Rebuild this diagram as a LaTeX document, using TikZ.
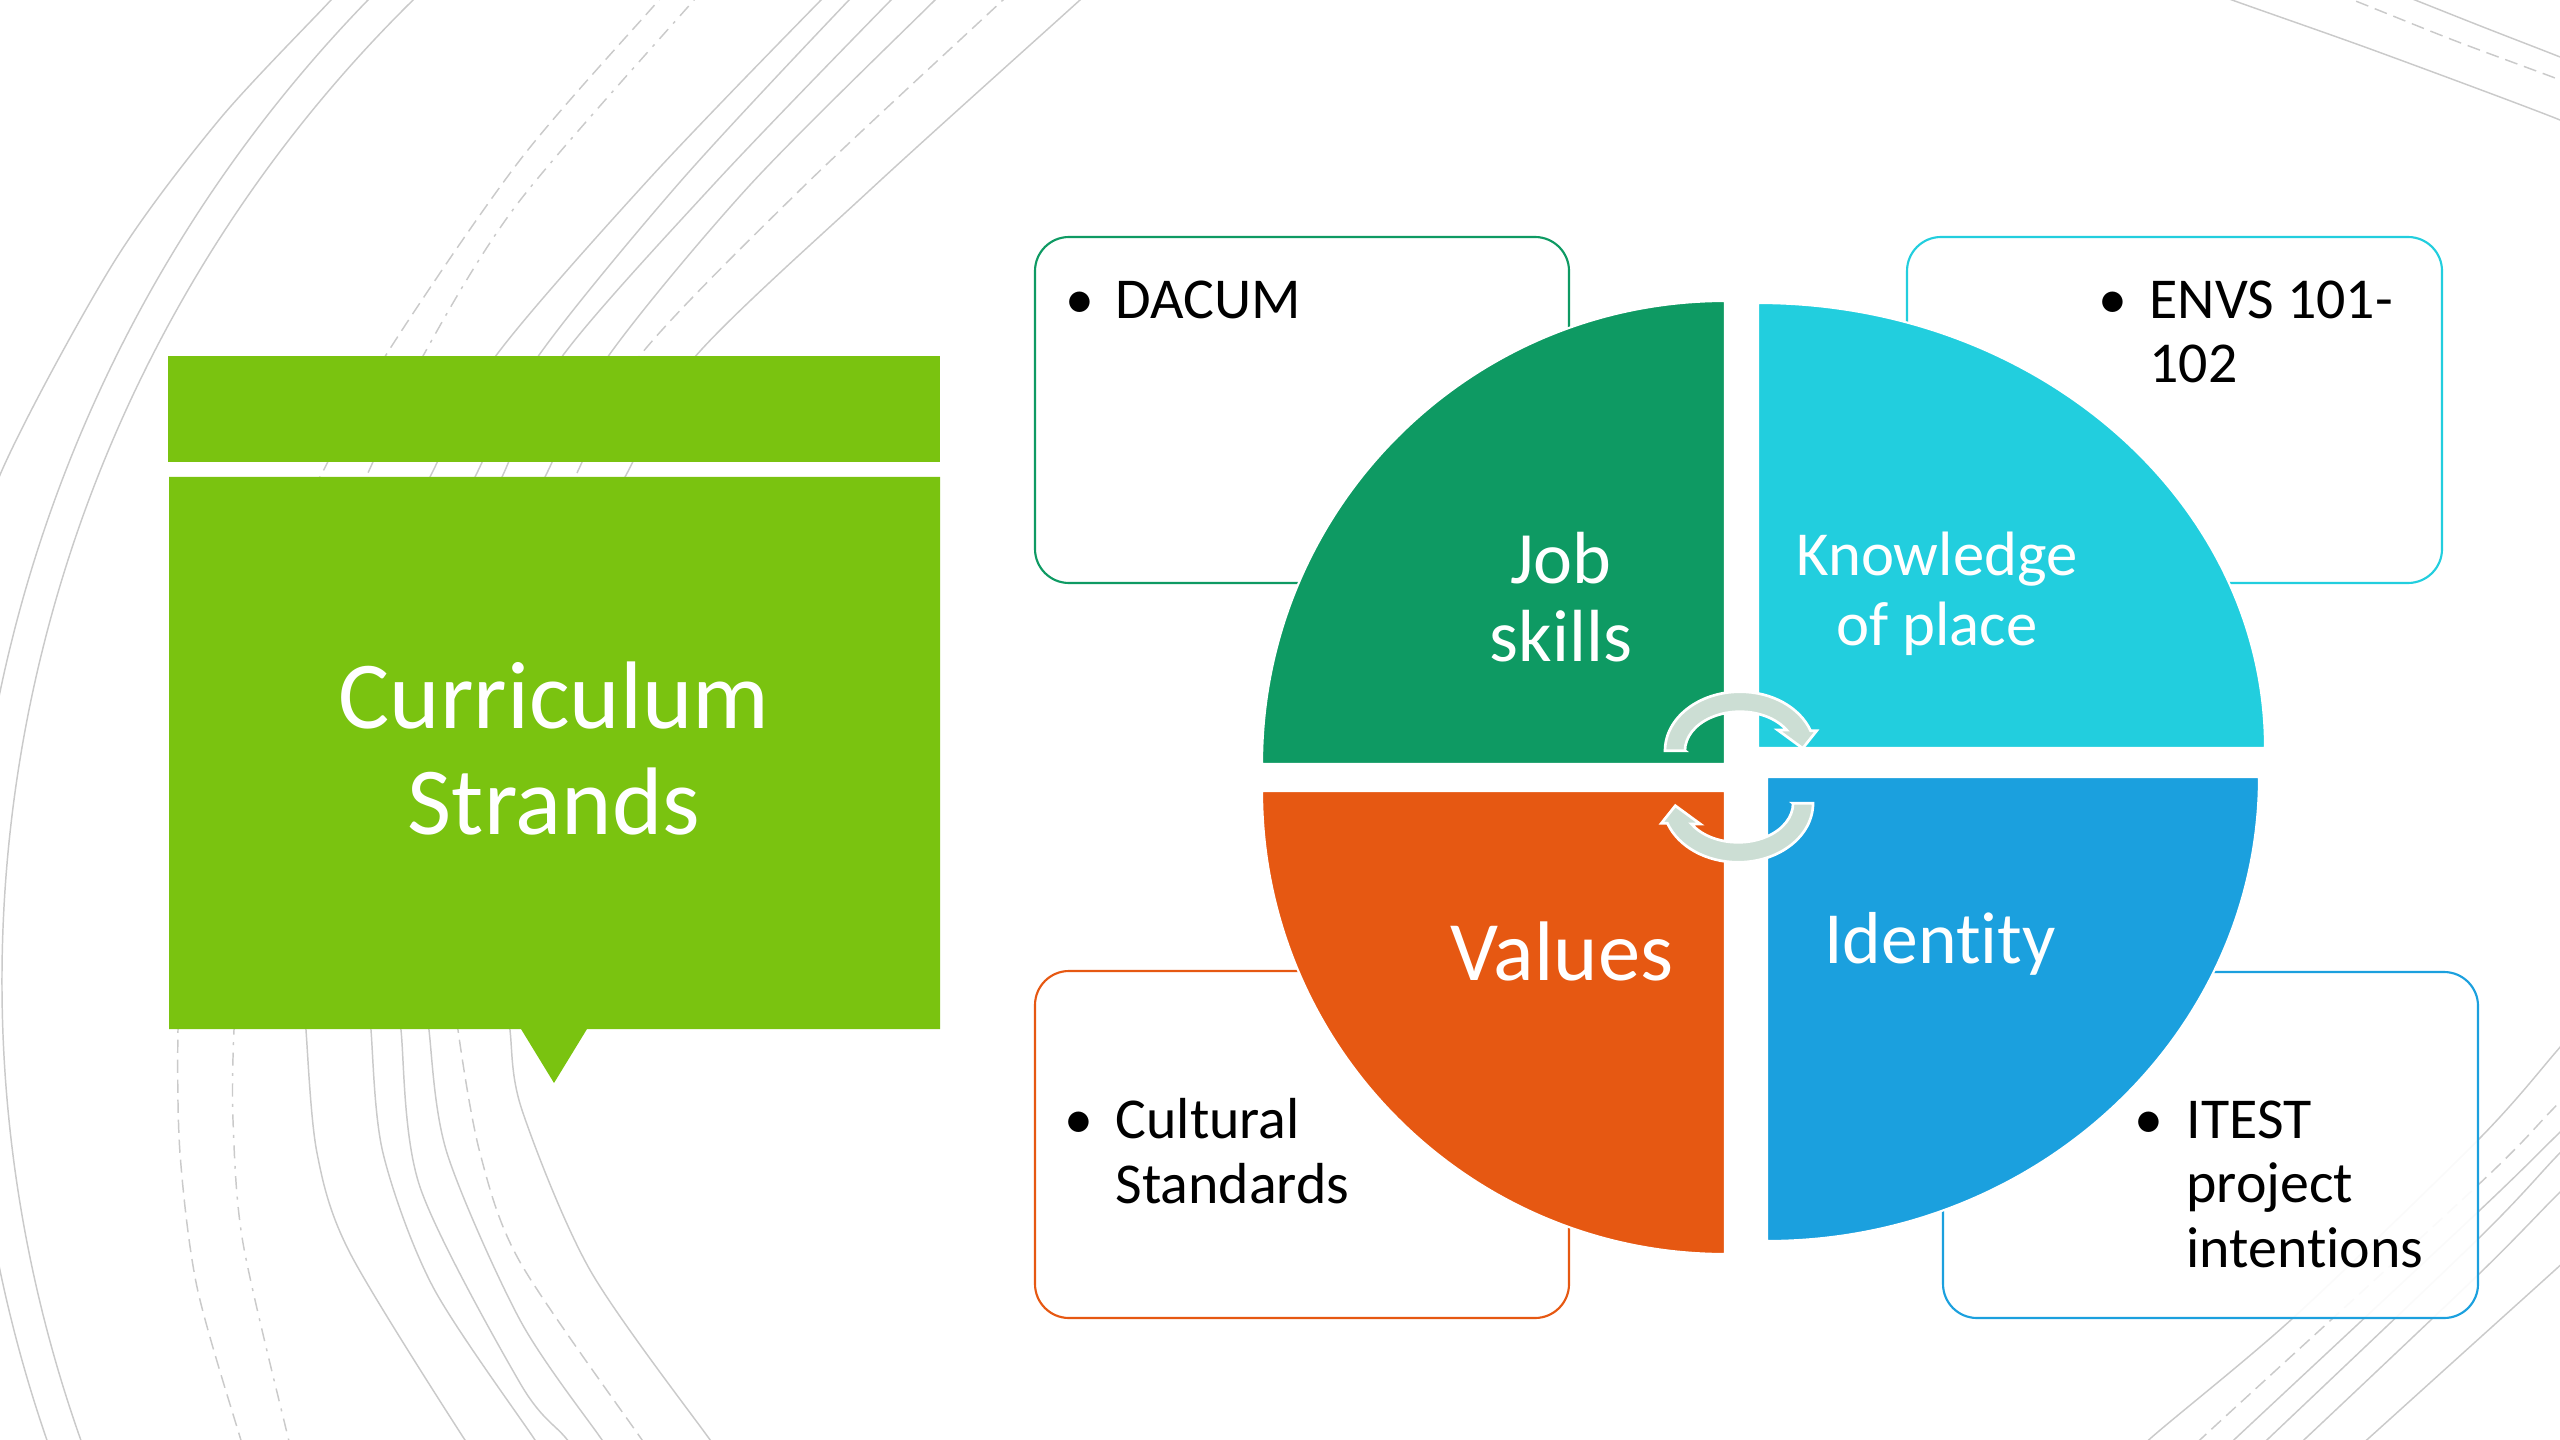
\documentclass[tikz,border=0pt]{standalone}
\usepackage{fontspec}
\setmainfont{Carlito}[Ligatures=NoCommon]
\definecolor{bannergreen}{HTML}{7AC310}
\definecolor{jobgreen}{HTML}{0E9A63}
\definecolor{placecyan}{HTML}{22CEDE}
\definecolor{identblue}{HTML}{1BA0DE}
\definecolor{valueorange}{HTML}{E65812}
\definecolor{cyclefill}{HTML}{CCDED4}
\definecolor{arcgrey}{HTML}{CACACA}
\begin{document}
\begin{tikzpicture}[x=0.375pt,y=0.375pt,
  arcline/.style={draw=arcgrey,line width=0.55pt},
  dashedarc/.style={arcline,dash pattern=on 4.9pt off 2.6pt},
  dashdotarc/.style={arcline,dash pattern=on 4.9pt off 2.8pt on 1.1pt off 2.8pt},
  notebox/.style={fill=white,fill opacity=0.92,line width=0.8pt,rounded corners=12.75pt},
  quarter/.style={draw=white,line width=0.8pt},
  cyclearrow/.style={fill=cyclefill,draw=white,line width=1pt},
  pielabel/.style={text=white,inner sep=0pt,anchor=base},
  notetext/.style={text=black,inner sep=0pt,anchor=base west,font=\fontsize{21.7}{26}\selectfont},
  notebullet/.style={text=black,inner sep=0pt,anchor=base,font=\fontsize{21.7}{26}\selectfont},
  cycle arrow/.pic={
    \path[cyclearrow] (-55,0) -- (-75,0)
      arc[start angle=180,end angle=19.8,x radius=75,y radius=59]
      -- (76.7,20) -- (62.7,2.4) -- (37.7,20.7) -- (46.6,20.7)
      arc[start angle=32,end angle=180,x radius=55,y radius=39] -- cycle;
  },
]
\useasboundingbox (0,-1440) rectangle (2560,0);

% thin decorative rings in the background
\begin{scope}
\clip (0,-1440) rectangle (2560,0);
% outer rings on the left
\draw[arcline] plot[smooth] coordinates {(352,25) (331,0) (219,-120) (114,-262) (3,-468) (-60,-650)};
\draw[arcline] (1378,-981) ++(135:1408) arc[start angle=135,end angle=200,radius=1408];
\draw[arcline] (1378,-981) ++(133:1376) arc[start angle=133,end angle=201,radius=1376];
% inner rings, upper parts (they run on behind the callout)
\draw[dashedarc] plot[smooth] coordinates {(694,40) (659,0) (520,-160) (386,-355) (320,-477) (292,-530)};
\draw[dashdotarc] plot[smooth] coordinates {(730,40) (694,0) (518,-203) (423,-356) (367,-475) (341,-530)};
\draw[arcline] plot[smooth] coordinates {(858,35) (821,0) (650,-178) (495,-357) (430,-477) (405,-530)};
\draw[arcline] plot[smooth] coordinates {(886,35) (849,0) (680,-182) (537,-358) (475,-477) (450,-530)};
\draw[arcline] plot[smooth] coordinates {(928,35) (891,0) (715,-183) (561,-358) (502,-477) (478,-530)};
\draw[arcline] plot[smooth] coordinates {(972,35) (935,0) (750,-185) (607,-358) (545,-477) (520,-530)};
\draw[dashedarc] plot[smooth] coordinates {(1040,35) (1003,0) (800,-190) (638,-358) (575,-477) (550,-530)};
\draw[arcline] plot[smooth] coordinates {(1118,35) (1080,0) (870,-190) (694,-358) (625,-477) (598,-530)};
% inner rings, lower parts
\draw[dashedarc] plot[smooth] coordinates {(184,-960) (178,-1030) (180,-1153) (197,-1287) (240,-1437) (252,-1470)};
\draw[dashdotarc] plot[smooth] coordinates {(240,-960) (234,-1030) (233,-1120) (243,-1243) (288,-1437) (298,-1470)};
\draw[arcline] plot[smooth] coordinates {(303,-960) (306,-1030) (317,-1153) (350,-1253) (463,-1437) (490,-1470)};
\draw[arcline] plot[smooth] coordinates {(368,-960) (371,-1030) (383,-1153) (433,-1287) (533,-1437) (556,-1470)};
\draw[arcline] plot[smooth] coordinates {(397,-960) (401,-1030) (420,-1187) (520,-1383) (565,-1437) (592,-1470)};
\draw[arcline] plot[smooth] coordinates {(425,-960) (429,-1030) (447,-1153) (520,-1320) (600,-1437) (625,-1470)};
\draw[dashedarc] plot[smooth] coordinates {(453,-960) (458,-1030) (480,-1153) (520,-1262) (640,-1437) (665,-1470)};
\draw[arcline] plot[smooth] coordinates {(505,-960) (510,-1030) (522,-1110) (590,-1270) (708,-1437) (735,-1470)};
% top right
\draw[arcline] plot[smooth] coordinates {(2180,20) (2232,0) (2373,-50) (2555,-118) (2600,-140)};
\draw[dashedarc] plot[smooth] coordinates {(2300,20) (2353,0) (2453,-40) (2555,-78) (2600,-96)};
\draw[arcline] plot[smooth] coordinates {(2365,20) (2415,0) (2483,-27) (2555,-55) (2600,-73)};
% bottom right
\draw[arcline] plot[smooth] coordinates {(2120,-1470) (2152,-1437) (2293,-1318) (2478,-1140) (2555,-1053) (2590,-1010)};
\draw[dashedarc] plot[smooth] coordinates {(2170,-1470) (2203,-1437) (2478,-1185) (2550,-1112) (2590,-1070)};
\draw[arcline] plot[smooth] coordinates {(2203,-1470) (2237,-1437) (2480,-1210) (2555,-1137) (2590,-1103)};
\draw[arcline] plot[smooth] coordinates {(2235,-1470) (2270,-1437) (2480,-1237) (2555,-1158) (2590,-1122)};
\draw[arcline] plot[smooth] coordinates {(2270,-1470) (2307,-1437) (2480,-1273) (2555,-1197) (2590,-1163)};
\draw[arcline] plot[smooth] coordinates {(2333,-1470) (2370,-1437) (2463,-1353) (2555,-1270) (2590,-1238)};
\end{scope}

% title callout
\fill[bannergreen] (168,-356) rectangle (940,-462);
\fill[bannergreen] (169,-477) -- (940,-477) -- (940,-1029) -- (587,-1029)
  -- (554,-1083) -- (521,-1029) -- (169,-1029) -- cycle;
\node[text=white,inner sep=0pt,anchor=base,font=\fontsize{36}{40}\selectfont] (titleA) at (554,-728) {Curriculum};
\node[text=white,inner sep=0pt,anchor=base,font=\fontsize{36}{40}\selectfont] (titleB) at (554,-834) {Strands};

% note boxes behind the quadrants
\draw[notebox,draw=jobgreen] (1035,-237) rectangle (1569,-583);
\draw[notebox,draw=placecyan] (1907,-237) rectangle (2442,-583);
\draw[notebox,draw=valueorange] (1035,-971) rectangle (1569,-1318);
\draw[notebox,draw=identblue] (1943,-972) rectangle (2478,-1318);

% four quadrants
\path[quarter,fill=jobgreen] (1725,-764) -- (1725,-301) arc[start angle=90,end angle=180,radius=463] -- cycle;
\path[quarter,fill=placecyan] (1758,-748) -- (2265,-748) arc[start angle=0,end angle=90,x radius=507,y radius=445] -- cycle;
\path[quarter,fill=identblue] (1767,-777) -- (2259,-777) arc[start angle=0,end angle=-90,x radius=492,y radius=464] -- cycle;
\path[quarter,fill=valueorange] (1725,-791) -- (1262,-791) arc[start angle=180,end angle=270,radius=463] -- cycle;

% circular arrows in the middle
\pic at (1740,-750.7) {cycle arrow};
\pic[rotate=180] at (1738,-803.3) {cycle arrow};

% quadrant labels
\node[pielabel,font=\fontsize{27.7}{30}\selectfont] (jobA) at (1561,-583) {Job};
\node[pielabel,font=\fontsize{27.7}{30}\selectfont] (jobB) at (1561,-661) {skills};
\node[pielabel,font=\fontsize{23.5}{26}\selectfont] (placeA) at (1937,-575) {Knowledge};
\node[pielabel,font=\fontsize{23.5}{26}\selectfont] (placeB) at (1937,-645) {of place};
\node[pielabel,font=\fontsize{31.7}{34}\selectfont] (values) at (1562,-980) {Values};
\node[pielabel,font=\fontsize{27.6}{30}\selectfont] (identity) at (1940,-963) {Identity};

% bullet texts
\node[notebullet] (dacumdot) at (1080,-319) {•};
\node[notetext] (dacum) at (1115,-319) {DACUM};
\node[notebullet] (envsdot) at (2113,-319) {•};
\node[notetext] (envsA) at (2149,-319) {ENVS 101-};
\node[notetext] (envsB) at (2149,-383) {102};
\node[notebullet] (culturedot) at (1079,-1138) {•};
\node[notetext] (cultureA) at (1115,-1138) {Cultural};
\node[notetext] (cultureB) at (1115,-1203) {Standards};
\node[notebullet] (itestdot) at (2149,-1138) {•};
\node[notetext] (itestA) at (2186,-1138) {ITEST};
\node[notetext] (itestB) at (2186,-1202) {project};
\node[notetext] (itestC) at (2186,-1267) {intentions};
\end{tikzpicture}
\end{document}
